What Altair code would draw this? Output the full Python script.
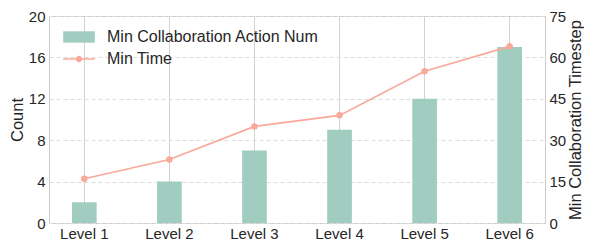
import altair as alt
import pandas as pd

levels = ["Level 1", "Level 2", "Level 3", "Level 4", "Level 5", "Level 6"]
action_num = [2, 4, 7, 9, 12, 17]
min_time = [16, 23, 35, 39, 55, 64]
left_ticks = [0, 4, 8, 12, 16, 20]
right_ticks = [0, 15, 30, 45, 60, 75]
bar_name = "Min Collaboration Action Num"
line_name = "Min Time"

df = pd.DataFrame({"level": levels, "num": action_num, "time": min_time,
                   "s1": bar_name, "s2": line_name})

FONT = "Liberation Sans"
TXT = "#262626"
BAR = "#a0cdbf"
LINE = "#f9a99a"

bar_sym = "M-1,-0.36H1V0.36H-1Z"
line_sym = "M-1,-0.05H1V0.05H-1Z M-0.2,0A0.2,0.2 0 1 1 0.2,0A0.2,0.2 0 1 1 -0.2,0Z"

x = alt.X("level:N", sort=levels, title=None,
          scale=alt.Scale(paddingInner=0.71, paddingOuter=0.27),
          axis=alt.Axis(bandPosition=0.5, grid=True, gridColor="#d2d2d2", gridWidth=1,
                        ticks=False, domain=False, labelAngle=0, labelFontSize=15,
                        labelPadding=3, labelColor=TXT, labelFont=FONT))

bars = alt.Chart(df).mark_bar().encode(
    x=x,
    y=alt.Y("num:Q", scale=alt.Scale(domain=[0, 20], nice=False),
            axis=alt.Axis(orient="left", values=left_ticks, title="Count", grid=True,
                          gridDash=[4, 3], gridColor="#dcdcdc", ticks=False, domain=False,
                          labelFontSize=15, labelPadding=4, labelColor=TXT, labelFont=FONT,
                          titleFontSize=16.5, titleFontWeight="normal", titleColor=TXT,
                          titleFont=FONT, titlePadding=3)),
    color=alt.Color("s1:N", scale=alt.Scale(domain=[bar_name], range=[BAR]),
                    legend=alt.Legend(title=None, orient="none", legendX=14, legendY=5,
                                      symbolType=bar_sym, symbolSize=1000,
                                      symbolStrokeWidth=0, labelFontSize=16,
                                      labelFont=FONT, labelColor=TXT, labelOffset=12,
                                      labelLimit=400, padding=0)),
)

yr = alt.Y("time:Q", scale=alt.Scale(domain=[0, 75], nice=False),
           axis=alt.Axis(orient="right", values=right_ticks, title="Min Collaboration Timestep",
                         grid=False, ticks=False, domain=False, labelFontSize=15,
                         labelPadding=4, labelColor=TXT, labelFont=FONT,
                         titleFontSize=16.5, titleFontWeight="normal", titleColor=TXT,
                         titleFont=FONT, titleAngle=270, titleBaseline="alphabetic",
                         titlePadding=15, titleLimit=400))

line = alt.Chart(df).mark_line(color=LINE, strokeWidth=1.6).encode(x=x, y=yr)
points = alt.Chart(df).mark_point(filled=True, size=42, opacity=1).encode(
    x=x, y=yr,
    color=alt.Color("s2:N", scale=alt.Scale(domain=[line_name], range=[LINE]),
                    legend=alt.Legend(title=None, orient="none", legendX=14, legendY=27,
                                      symbolType=line_sym, symbolSize=1000,
                                      symbolStrokeWidth=0, labelFontSize=16,
                                      labelFont=FONT, labelColor=TXT, labelOffset=12,
                                      labelLimit=400, padding=0)),
)

chart = alt.layer(bars, alt.layer(line, points)).resolve_scale(
    y="independent", color="independent"
).properties(
    width=496, height=207,
    autosize=alt.AutoSizeParams(type="none"),
    padding={"left": 41, "top": 8, "right": 39, "bottom": 20},
    background="white",
).configure_view(stroke="#cccccc", strokeWidth=1)

chart.save("out.html", embed_options={"renderer": "svg", "actions": False})
